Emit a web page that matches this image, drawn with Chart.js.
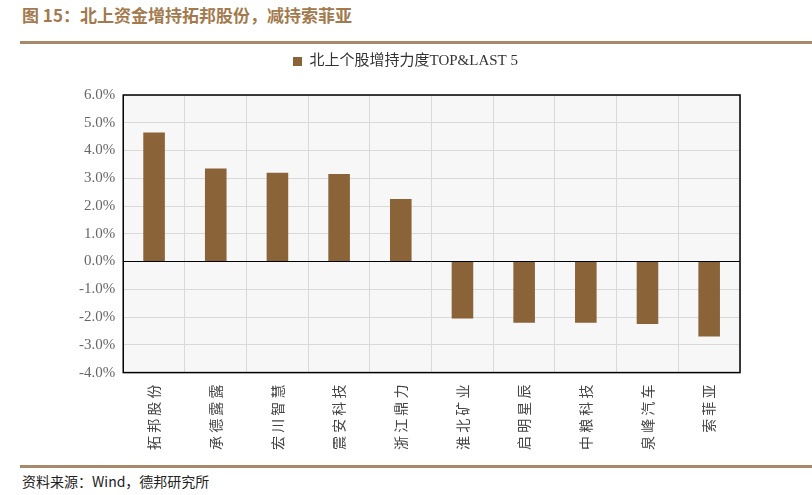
<!DOCTYPE html>
<html>
<head>
<meta charset="utf-8">
<script src="https://cdn.jsdelivr.net/npm/chart.js"></script>
<style>
  body { margin: 0; background: #fff; width: 812px; height: 495px; position: relative; overflow: hidden; }
  #title { position: absolute; left: 22px; top: 2px; font: bold 17px "Noto Sans CJK SC", sans-serif; color: #A37A4E; }
  .rule { position: absolute; left: 20px; right: 0; height: 3px; background: #A8896A; }
  #src { position: absolute; left: 22px; top: 471px; font: 14px "Noto Sans CJK SC", sans-serif; color: #222; }
  #wrap { position: absolute; left: 55px; top: 38px; width: 700px; height: 424px; }
</style>
</head>
<body>
<div id="title">图 15：北上资金增持拓邦股份，减持索菲亚</div>
<div class="rule" style="top:41px"></div>
<div id="wrap"><canvas id="chart"></canvas></div>
<div class="rule" style="top:465px"></div>
<div id="src">资料来源：Wind，德邦研究所</div>
<script>
const categories = ['拓邦股份', '承德露露', '宏川智慧', '震安科技', '浙江鼎力', '淮北矿业', '启明星辰', '中粮科技', '泉峰汽车', '索菲亚'];
const values = [4.65, 3.35, 3.2, 3.15, 2.25, -2.05, -2.2, -2.2, -2.25, -2.7];
const seriesName = '北上个股增持力度TOP&LAST 5';

const plotBg = {
  id: 'plotBg',
  beforeInit(chart) {
    // extra gap under the legend
    const fit = chart.legend.fit;
    chart.legend.fit = function () { fit.call(this); this.height += 16; };
  },
  beforeDraw(chart) {
    const { ctx, chartArea: a } = chart;
    ctx.save();
    ctx.fillStyle = '#f7f7f7';
    ctx.fillRect(a.left, a.top, a.right - a.left, a.bottom - a.top);
    ctx.restore();
  },
  afterDraw(chart) {
    const { ctx, chartArea: a } = chart;
    ctx.save();
    ctx.strokeStyle = '#000';
    ctx.lineWidth = 1.5;
    ctx.strokeRect(a.left, a.top, a.right - a.left, a.bottom - a.top);
    ctx.restore();
  }
};

new Chart(document.getElementById('chart'), {
  type: 'bar',
  data: {
    labels: categories,
    datasets: [{ label: seriesName, data: values, backgroundColor: '#8A6338', categoryPercentage: 1, barPercentage: 0.35 }]
  },
  options: {
    responsive: true,
    maintainAspectRatio: false,
    animation: false,
    layout: { padding: { top: 6, left: 16, right: 15 } },
    plugins: {
      legend: {
        labels: { boxWidth: 9, boxHeight: 9, color: '#333', font: { family: '"Liberation Serif", "Noto Sans CJK SC"', size: 15 } },
        onClick: null
      },
      tooltip: { enabled: false }
    },
    scales: {
      x: {
        grid: { color: '#d9d9d9', drawTicks: false },
        border: { display: false },
        ticks: {
          minRotation: 90, maxRotation: 90, padding: 12,
          color: '#444', font: { family: '"Noto Sans CJK SC"', size: 14 },
          callback: (v, i) => categories[i].split('').join(' ')
        }
      },
      y: {
        min: -4, max: 6,
        grid: { color: ctx => ctx.tick.value === 0 ? '#000' : '#d9d9d9', drawTicks: false },
        border: { display: false },
        ticks: {
          stepSize: 1, padding: 8, color: '#666',
          font: { family: '"Liberation Serif"', size: 15 },
          callback: v => v.toFixed(1) + '%'
        }
      }
    }
  },
  plugins: [plotBg]
});
</script>
</body>
</html>
